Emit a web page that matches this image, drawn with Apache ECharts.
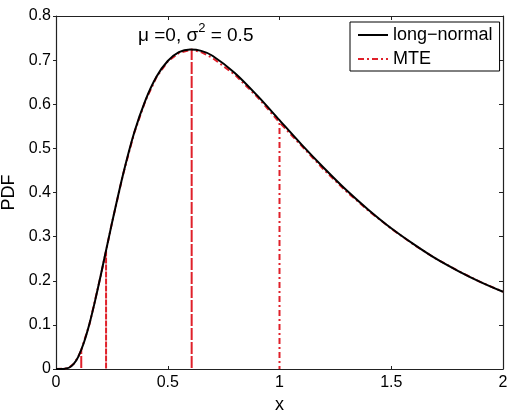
<!DOCTYPE html>
<html>
<head>
<meta charset="utf-8">
<script src="https://cdn.jsdelivr.net/npm/echarts@6/dist/echarts.min.js"></script>
<style>
  html, body { margin: 0; padding: 0; background: #fff; }
  #chart { width: 512px; height: 412px; }
</style>
</head>
<body>
<div id="chart"></div>
<script>
// log-normal curve
const xValues = [0, 0.02, 0.04, 0.06, 0.08, 0.1, 0.125, 0.15, 0.175, 0.2, 0.25, 0.3, 0.35, 0.4, 0.45, 0.5, 0.55, 0.6, 0.65, 0.7, 0.8, 0.9, 1.0, 1.1, 1.2, 1.3, 1.4, 1.5, 1.6, 1.7, 1.8, 1.9, 2.0]
const logNormal = [0, 0, 0.0005, 0.0034, 0.012, 0.028, 0.060, 0.103, 0.155, 0.212, 0.330, 0.441, 0.536, 0.609, 0.663, 0.698, 0.718, 0.724, 0.721, 0.710, 0.671, 0.620, 0.564, 0.508, 0.455, 0.405, 0.360, 0.319, 0.283, 0.250, 0.222, 0.197, 0.175]

// MTE approximation (piecewise, drops to 0 at the split points)
const mteX = [0, 0.04, 0.06, 0.08, 0.1, 0.113, 0.113, 0.113, 0.15, 0.2, 0.224, 0.224, 0.224, 0.25, 0.3, 0.35, 0.4, 0.45, 0.5, 0.55, 0.607, 0.607, 0.607, 0.65, 0.7, 0.8, 0.9, 1.0, 1.0, 1.0, 1.1, 1.2, 1.3, 1.4, 1.5, 1.6, 1.7, 1.8, 1.9, 2.0]
const mteY = [0, 0.0005, 0.004, 0.012, 0.028, 0.043, 0, 0.043, 0.102, 0.211, 0.268, 0, 0.268, 0.330, 0.441, 0.535, 0.608, 0.662, 0.697, 0.716, 0.724, 0, 0.724, 0.718, 0.705, 0.667, 0.617, 0.559, 0, 0.559, 0.505, 0.451, 0.402, 0.358, 0.318, 0.282, 0.250, 0.222, 0.197, 0.175]

const seriesNames = ['long\u2212normal', 'MTE']

const chart = echarts.init(document.getElementById('chart'))
const font = 'Liberation Sans, Arial, Helvetica, sans-serif'
const black = '#000'
const axisColor = '#222'
const red = '#e0202a'

const option = {
  animation: false,
  backgroundColor: '#fff',
  textStyle: { fontFamily: font },
  title: {
    left: 138,
    top: 22,
    padding: 0,
    text: '{a|\u03bc =0, \u03c3}{s|2}{a| = 0.5}',
    textStyle: {
      fontFamily: font,
      fontWeight: 'normal',
      rich: {
        a: { fontSize: 19, lineHeight: 28, color: black, fontFamily: font, fontWeight: 'normal' },
        s: { fontSize: 13, lineHeight: 11, verticalAlign: 'top', color: black, fontFamily: font, fontWeight: 'normal' }
      }
    }
  },
  legend: {
    left: 350,
    top: 22,
    orient: 'vertical',
    padding: [4, 7, 3, 7],
    itemWidth: 30,
    itemHeight: 14,
    itemGap: 6,
    borderColor: black,
    borderWidth: 1,
    backgroundColor: '#fff',
    itemStyle: { opacity: 0 },
    textStyle: { fontSize: 18, color: black, fontFamily: font, lineHeight: 18 },
    data: seriesNames
  },
  grid: {
    left: 56, right: 9, top: 16, bottom: 43,
    containLabel: false,
    outerBoundsMode: 'none'
  },
  xAxis: [
    {
      type: 'value',
      min: 0,
      max: 2,
      interval: 0.5,
      name: 'x',
      nameLocation: 'middle',
      nameGap: 20,
      nameTextStyle: { fontSize: 18, color: black, fontFamily: font },
      axisLine: { show: true, onZero: false, lineStyle: { color: axisColor, width: 1.2 } },
      axisTick: { show: true, inside: true, length: 3, lineStyle: { color: axisColor } },
      axisLabel: { fontSize: 16, color: black, margin: 6, fontFamily: font },
      splitLine: { show: false }
    },
    {
      type: 'value',
      position: 'top',
      min: 0,
      max: 2,
      interval: 0.5,
      axisLine: { show: true, onZero: false, lineStyle: { color: axisColor, width: 1.2 } },
      axisTick: { show: true, inside: true, length: 4, lineStyle: { color: axisColor } },
      axisLabel: { show: false },
      splitLine: { show: false }
    }
  ],
  yAxis: [
    {
      type: 'value',
      min: 0,
      max: 0.8,
      interval: 0.1,
      name: 'PDF',
      nameLocation: 'middle',
      nameGap: 29,
      nameTextStyle: { fontSize: 18, color: black, fontFamily: font },
      axisLine: { show: true, onZero: false, lineStyle: { color: axisColor, width: 1.2 } },
      axisTick: { show: true, inside: false, length: 3, lineStyle: { color: axisColor } },
      axisLabel: { fontSize: 16, color: black, margin: 5, fontFamily: font },
      splitLine: { show: false }
    },
    {
      type: 'value',
      position: 'right',
      min: 0,
      max: 0.8,
      interval: 0.1,
      axisLine: { show: true, onZero: false, lineStyle: { color: axisColor, width: 1.2 } },
      axisTick: { show: true, inside: true, length: 4, lineStyle: { color: axisColor } },
      axisLabel: { show: false },
      splitLine: { show: false }
    }
  ],
  series: [
    {
      name: seriesNames[0],
      type: 'line',
      showSymbol: false,
      symbol: 'none',
      smooth: 0.3,
      z: 3,
      lineStyle: { color: black, width: 2 },
      itemStyle: { color: black },
      data: xValues.map((x, i) => [x, logNormal[i]])
    },
    {
      name: seriesNames[1],
      type: 'line',
      xAxisIndex: 1,
      yAxisIndex: 1,
      showSymbol: false,
      symbol: 'none',
      z: 2,
      lineStyle: { color: red, width: 2, type: [6, 3, 2, 3] },
      itemStyle: { color: red },
      data: mteX.map((x, i) => [x, mteY[i]])
    }
  ]
}

chart.setOption(option)
</script>
</body>
</html>
